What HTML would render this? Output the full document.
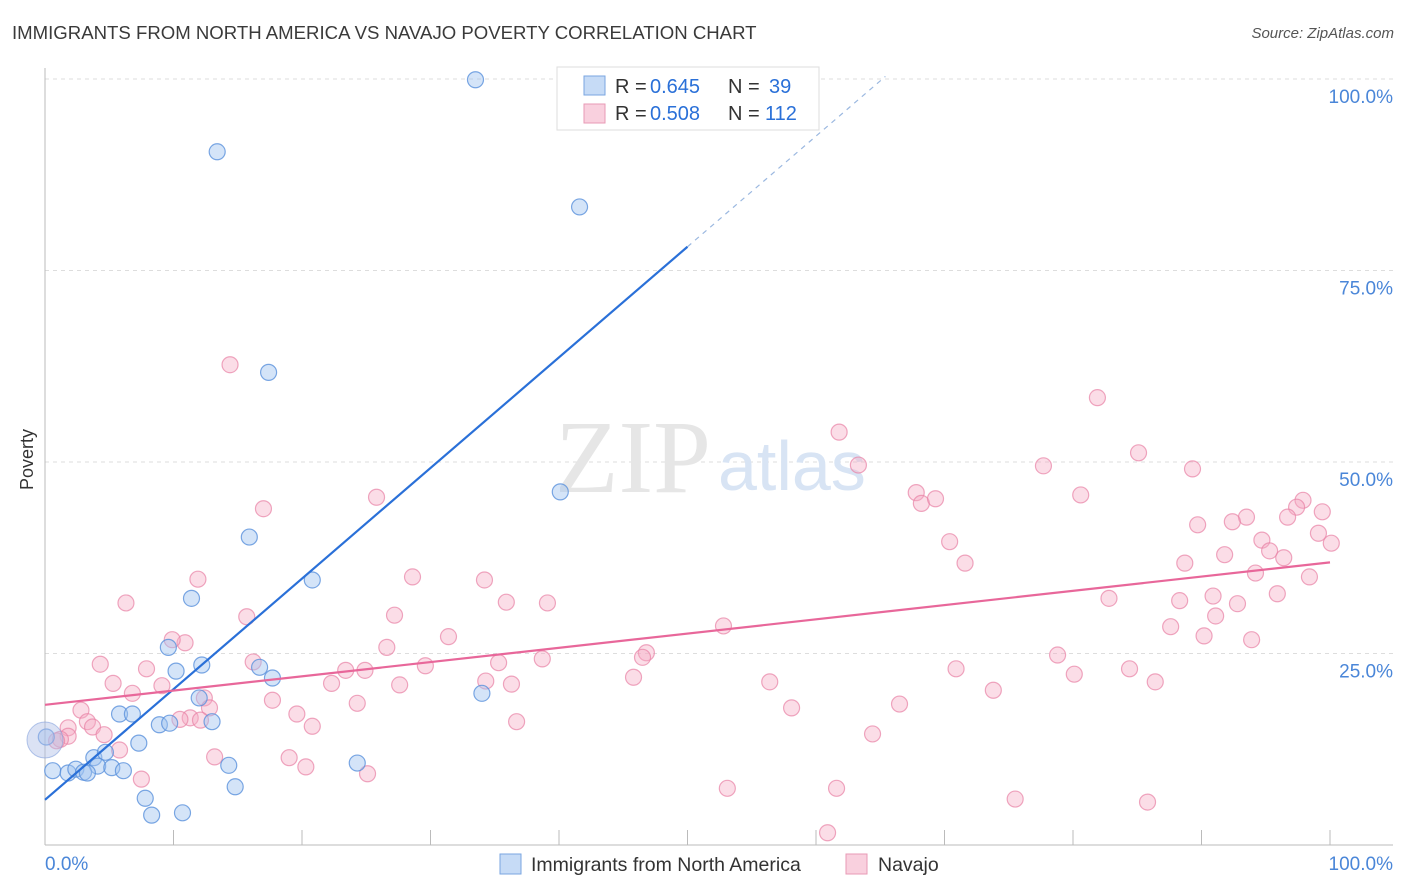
<!DOCTYPE html>
<html><head><meta charset="utf-8">
<style>
body{margin:0;background:#fff;font-family:"Liberation Sans",sans-serif;}
#wrap{position:relative;width:1406px;height:892px;overflow:hidden;}
.t{position:absolute;white-space:nowrap;}
</style></head>
<body>
<div id="wrap">
<div class="t" style="left:12px;top:22px;font-size:18.6px;color:#3a3a3a;">IMMIGRANTS FROM NORTH AMERICA VS NAVAJO POVERTY CORRELATION CHART</div>
<div class="t" style="right:12px;top:25px;font-size:15px;color:#555;font-style:italic;">Source: ZipAtlas.com</div>
<div class="t" style="left:17px;font-size:18px;color:#333;transform:rotate(-90deg);transform-origin:left top;top:490px;">Poverty</div>
<svg id="svg" width="1406" height="892" style="position:absolute;left:0;top:0"></svg>
</div>
<script>
const blueX=[33.5,13.4,41.6,17.4,40.1,15.9,20.8,11.4,9.6,10.2,12.2,16.7,17.7,12.0,5.8,6.8,13.0,8.9,9.7,7.3,0.1,3.8,4.7,4.1,0.6,1.8,2.4,3.0,5.2,6.1,14.3,24.3,34.0,7.8,8.3,10.7,14.8,3.3];
const blueY=[99.9,90.5,83.3,61.7,46.1,40.2,34.6,32.2,25.8,22.7,23.5,23.2,21.8,19.2,17.1,17.1,16.1,15.7,15.9,13.3,14.1,11.4,12.1,10.3,9.7,9.4,9.9,9.5,10.1,9.7,10.4,10.7,19.8,6.1,3.9,4.2,7.6,9.4];
const pinkX=[14.4,81.9,61.8,85.1,63.3,77.7,89.3,25.8,80.6,67.8,68.2,69.3,17.0,97.9,97.4,99.4,96.7,93.5,92.4,89.7,99.1,100.1,94.7,70.4,95.3,91.8,96.4,71.6,88.7,94.2,11.9,28.6,34.2,98.4,6.3,35.9,39.1,82.8,88.3,95.9,90.9,91.1,92.8,15.7,27.2,87.6,90.2,93.9,52.8,10.9,9.9,31.4,26.6,46.8,46.5,38.7,4.3,16.2,35.3,78.8,7.9,23.4,24.9,29.6,70.9,84.4,80.1,45.8,5.3,22.3,27.6,36.3,34.3,9.1,56.4,86.4,73.8,6.8,17.7,12.4,24.3,12.8,66.5,58.1,2.8,11.3,10.5,36.7,19.6,3.3,1.8,3.7,20.8,1.8,4.6,1.2,0.9,64.4,5.8,13.2,19.0,20.3,25.1,7.5,53.1,61.6,75.5,85.8,60.9,12.1];
const pinkY=[62.7,58.4,53.9,51.2,49.6,49.5,49.1,45.4,45.7,46.0,44.6,45.2,43.9,45.0,44.1,43.5,42.8,42.8,42.2,41.8,40.7,39.4,39.8,39.6,38.4,37.9,37.5,36.8,36.8,35.5,34.7,35.0,34.6,35.0,31.6,31.7,31.6,32.2,31.9,32.8,32.5,29.9,31.5,29.8,30.0,28.5,27.3,26.8,28.6,26.4,26.8,27.2,25.8,25.1,24.5,24.3,23.6,23.9,23.8,24.8,23.0,22.8,22.8,23.4,23.0,23.0,22.3,21.9,21.1,21.1,20.9,21.0,21.4,20.8,21.3,21.3,20.2,19.8,18.9,19.2,18.5,17.9,18.4,17.9,17.6,16.6,16.4,16.1,17.1,16.1,15.3,15.4,15.5,14.2,14.4,13.8,13.6,14.5,12.4,11.5,11.4,10.2,9.3,8.6,7.4,7.4,6.0,5.6,1.6,16.3];
const blueTrend=[5.9,78.1]; // y at x=0, y at x=50
const pinkTrend=[18.3,36.9]; // y at x=0, y at x=100
const yTicks=[25,50,75,100];
const yTickLabels=["25.0%","50.0%","75.0%","100.0%"];
const xTicks=[0,10,20,30,40,50,60,70,80,90,100];

const NS="http://www.w3.org/2000/svg";
const svg=document.getElementById('svg');
const X=v=>45+v*12.85;
const Y=v=>845-v*7.66;
function mk(tag,attrs,parent){const e=document.createElementNS(NS,tag);for(const k in attrs)e.setAttribute(k,attrs[k]);(parent||svg).appendChild(e);return e;}

yTicks.forEach((t,i)=>{
  const g=mk('line',{x1:45,x2:1393,y1:Y(t),y2:Y(t),stroke:'#ddd','stroke-dasharray':'4,4'});
  
  
  const tx=mk('text',{x:1393,y:Y(t)+24,'text-anchor':'end','font-size':19,fill:'#4a86d8','font-family':'Liberation Sans, sans-serif'});
  tx.textContent=yTickLabels[i];
  
  
});
let ax=mk('line',{x1:45,x2:45,y1:68,y2:845,stroke:'#bbb'});


ax=mk('line',{x1:45,x2:1393,y1:845,y2:845,stroke:'#bbb'});


xTicks.forEach(t=>{
  const l=mk('line',{x1:X(t),x2:X(t),y1:830,y2:845,stroke:'#bbb'});
  
  
});
let tl=mk('text',{x:45,y:870,'font-size':19,fill:'#4a86d8','font-family':'Liberation Sans, sans-serif'});tl.textContent='0.0%';


tl=mk('text',{x:1393,y:870,'text-anchor':'end','font-size':19,fill:'#4a86d8','font-family':'Liberation Sans, sans-serif'});tl.textContent='100.0%';


let wm=mk('text',{x:555,y:492,'font-size':104,fill:'#e6e6e6','font-family':'Liberation Serif, serif'});wm.textContent='ZIP';


wm=mk('text',{x:718,y:490,'font-size':70,fill:'#d8e4f4','font-family':'Liberation Sans, sans-serif'});wm.textContent='atlas';



pinkX.forEach((v,i)=>{
  const c=mk('circle',{cx:X(v),cy:Y(pinkY[i]),r:8,fill:'rgba(244,170,195,0.4)',stroke:'rgba(232,130,165,0.7)','stroke-width':1.2});
  
  
});
blueX.forEach((v,i)=>{
  const c=mk('circle',{cx:X(v),cy:Y(blueY[i]),r:8,fill:'rgba(160,195,240,0.45)',stroke:'rgba(90,145,220,0.8)','stroke-width':1.2});
  
  
});
let big=mk('circle',{cx:X(0),cy:Y(13.7),r:18,fill:'rgba(175,190,230,0.45)',stroke:'rgba(130,160,220,0.6)'});



const slopeB=(blueTrend[1]-blueTrend[0])/50;
let tr=mk('line',{x1:X(0),y1:Y(blueTrend[0]),x2:X(50),y2:Y(blueTrend[1]),stroke:'#2a70d8','stroke-width':2.2});


tr=mk('line',{x1:X(50),y1:Y(blueTrend[1]),x2:X(65.4),y2:Y(blueTrend[0]+slopeB*65.4),stroke:'#9bb8e0','stroke-width':1.2,'stroke-dasharray':'5,5'});


tr=mk('line',{x1:X(0),y1:Y(pinkTrend[0]),x2:X(100),y2:Y(pinkTrend[1]),stroke:'#e8679a','stroke-width':2.2});



const lg=mk('g',{});


mk('rect',{x:557,y:67,width:262,height:63,fill:'#fff',stroke:'#ddd'},lg);
mk('rect',{x:584,y:76,width:21,height:19,fill:'rgba(160,195,240,0.6)',stroke:'#7aa6e0'},lg);
mk('rect',{x:584,y:104,width:21,height:19,fill:'rgba(244,170,195,0.55)',stroke:'#e89ab5'},lg);
function lt(x,y,s,col){const t=mk('text',{x:x,y:y,'font-size':20,fill:col,'font-family':'Liberation Sans, sans-serif'},lg);t.textContent=s;return t;}
lt(615,93,'R =','#333');lt(650,93,'0.645','#2a70d8');lt(728,93,'N =','#333');lt(769,93,'39','#2a70d8');
lt(615,120,'R =','#333');lt(650,120,'0.508','#2a70d8');lt(728,120,'N =','#333');lt(765,120,'112','#2a70d8');

const bl=mk('g',{});


mk('rect',{x:500,y:854,width:21,height:20,fill:'rgba(160,195,240,0.6)',stroke:'#7aa6e0'},bl);
let bt=mk('text',{x:531,y:871,'font-size':19.5,fill:'#333','font-family':'Liberation Sans, sans-serif'},bl);bt.textContent='Immigrants from North America';
mk('rect',{x:846,y:854,width:21,height:20,fill:'rgba(244,170,195,0.55)',stroke:'#e89ab5'},bl);
bt=mk('text',{x:878,y:871,'font-size':19.5,fill:'#333','font-family':'Liberation Sans, sans-serif'},bl);bt.textContent='Navajo';
</script>
</body></html>
